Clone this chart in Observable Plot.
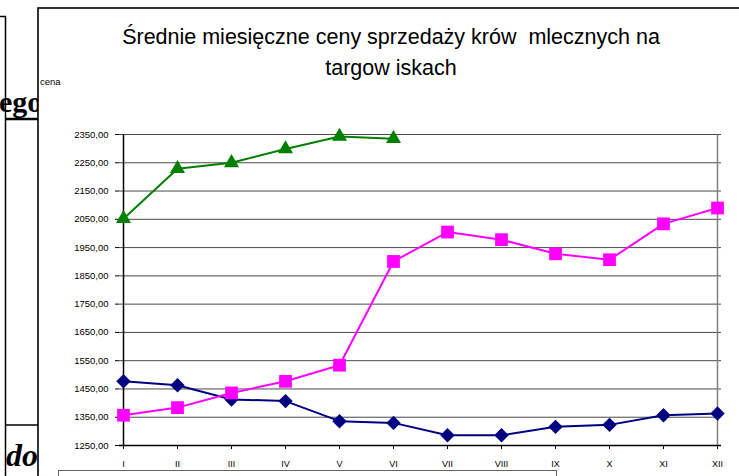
<!DOCTYPE html>
<html>
<head>
<meta charset="utf-8">
<script src="https://cdn.jsdelivr.net/npm/d3@7"></script>
<script src="https://cdn.jsdelivr.net/npm/@observablehq/plot@0.6"></script>
<style>
  body { margin: 0; background: #fff; }
  #wrap { position: relative; width: 739px; height: 476px; overflow: hidden; background: #fff; }
  #deco, #chart { position: absolute; left: 0; top: 0; }
  #chart svg { display: block; }
</style>
</head>
<body>
<div id="wrap">
  <svg id="deco" width="739" height="476" xmlns="http://www.w3.org/2000/svg">
    <!-- page fragments behind the chart -->
    <line x1="0" y1="16.5" x2="6" y2="16.5" stroke="#000" stroke-width="1.5"/>
    <line x1="5.5" y1="16" x2="5.5" y2="476" stroke="#000" stroke-width="1.5"/>
    <text x="-1" y="112" font-family="Liberation Serif, Times New Roman, serif" font-weight="bold" font-size="30">ego</text>
    <line x1="5" y1="119" x2="38" y2="119" stroke="#000" stroke-width="2.5"/>
    <line x1="5" y1="425" x2="38" y2="425" stroke="#000" stroke-width="1.5"/>
    <text x="6" y="466" font-family="Liberation Serif, Times New Roman, serif" font-weight="bold" font-style="italic" font-size="32">do</text>
    <!-- chart area (white, covers the fragments) -->
    <rect x="38" y="8" width="710" height="480" fill="#fff" stroke="#000" stroke-width="1.6"/>
    <!-- legend box, cut off at the bottom -->
    <rect x="58.5" y="470.5" width="498" height="20" fill="none" stroke="#666" stroke-width="1"/>
    <text x="40" y="85" font-family="Liberation Sans, Arial, sans-serif" font-size="9.5" fill="#000">cena</text>
    <text x="391" y="44" text-anchor="middle" style="white-space:pre" font-family="Liberation Sans, Arial, sans-serif" font-size="21.5" fill="#000">Średnie miesięczne ceny sprzedaży krów  mlecznych na</text>
    <text x="391" y="75" text-anchor="middle" style="white-space:pre" font-family="Liberation Sans, Arial, sans-serif" font-size="21.5" fill="#000">targow iskach</text>
  </svg>
  <div id="chart"></div>
</div>
<script>
// ---- data ----
const months = ["I", "II", "III", "IV", "V", "VI", "VII", "VIII", "IX", "X", "XI", "XII"];
const yTicks = [1250, 1350, 1450, 1550, 1650, 1750, 1850, 1950, 2050, 2150, 2250, 2350];

const seriesNames = ["seria 1", "seria 2", "seria 3"];
const navyValues = [1477, 1463, 1413, 1407, 1336, 1330, 1286, 1286, 1316, 1323, 1357, 1363];
const magentaValues = [1357, 1384, 1436, 1477, 1534, 1901, 2005, 1978, 1928, 1907, 2034, 2090];
const greenValues = [2052, 2229, 2250, 2299, 2343, 2335];

// ---- build tables ----
const toRows = (vals, name) => vals.map((v, i) => ({month: months[i], value: v, series: name}));
const navyRows = toRows(navyValues, seriesNames[0]);
const magentaRows = toRows(magentaValues, seriesNames[1]);
const greenRows = toRows(greenValues, seriesNames[2]);

const fmt = d => d3.format(".2f")(d).replace(".", ",");

const chart = Plot.plot({
  width: 739,
  height: 476,
  marginLeft: 119,
  marginRight: 18,
  marginTop: 134,
  marginBottom: 31,
  style: {
    fontFamily: "Liberation Sans, Arial, sans-serif",
    fontSize: "9.5px",
    background: "transparent",
    color: "#000"
  },
  x: {type: "point", domain: months, padding: 0},
  y: {domain: [1250, 2350]},
  marks: [
    Plot.ruleY(yTicks.slice(1), {stroke: "#4a4a4a", strokeWidth: 1}),
    Plot.ruleX([months[months.length - 1]], {stroke: "#808080", strokeWidth: 1.5}),
    Plot.ruleX([months[0]], {stroke: "#000", strokeWidth: 1.5}),
    Plot.ruleY([yTicks[0]], {stroke: "#000", strokeWidth: 1.5}),
    Plot.axisY(yTicks, {tickSize: 4, tickPadding: 7, tickFormat: fmt, label: null}),
    Plot.axisX({tickSize: 4, tickPadding: 11, label: null, fontSize: 9}),
    Plot.line(navyRows, {x: "month", y: "value", stroke: "#000080", strokeWidth: 2}),
    Plot.dot(navyRows, {x: "month", y: "value", symbol: "diamond2", r: 6.5, fill: "#000080", stroke: "none"}),
    Plot.line(magentaRows, {x: "month", y: "value", stroke: "#ff00ff", strokeWidth: 2}),
    Plot.dot(magentaRows, {x: "month", y: "value", symbol: "square", r: 7.2, fill: "#ff00ff", stroke: "none"}),
    Plot.line(greenRows, {x: "month", y: "value", stroke: "#008000", strokeWidth: 2}),
    Plot.dot(greenRows, {x: "month", y: "value", symbol: "triangle", r: 5.6, fill: "#008000", stroke: "none"})
  ]
});
document.getElementById("chart").appendChild(chart);
</script>
</body>
</html>
